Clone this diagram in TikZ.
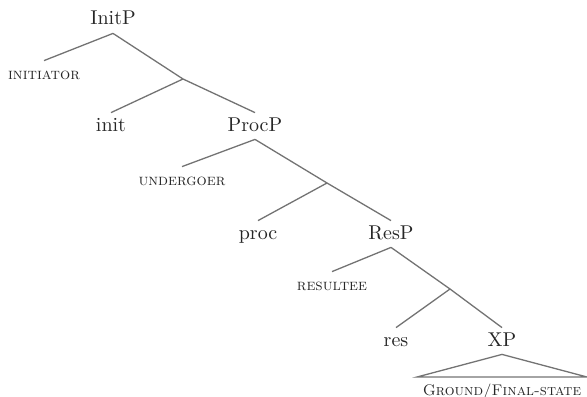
\documentclass[tikz,border=0pt]{standalone}
\begin{document}
\begin{tikzpicture}[x=0.5pt,y=-0.5pt,
  lab/.style={anchor=base,inner sep=2pt,text height=7pt,text depth=2pt,font=\normalsize,text=black!85},
  sc/.style={anchor=base,inner sep=2pt,text height=7pt,text depth=2pt,font=\footnotesize\scshape,text=black!85},
  br/.style={draw=black!55,line width=0.65pt}]
\useasboundingbox (0,0) rectangle (587,396);
\node[lab] (initp) at (113,25) {InitP};
\node[sc] (initiator) at (44,79) {initiator};
\coordinate (j1) at (183,79);
\node[lab] (init) at (111,131) {init};
\node[lab] (procp) at (255,131) {ProcP};
\node[sc] (undergoer) at (182,185) {undergoer};
\coordinate (j2) at (327,183);
\node[lab] (proc) at (258,239) {proc};
\node[lab] (resp) at (391,239) {ResP};
\node[sc] (resultee) at (332,290) {resultee};
\coordinate (j3) at (450,289);
\node[lab] (res) at (396,346) {res};
\node[lab] (xp) at (502,346) {XP};
\coordinate (tl) at (417,377);
\coordinate (tr) at (587,377);
\node[sc,font=\fontsize{7.7}{9}\selectfont\scshape] (ground) at (502,395) {Ground/Final-state};
\draw[br] (initp.south) -- (initiator.north);
\draw[br] (initp.south) -- (j1) -- (procp.north);
\draw[br] (j1) -- (init.north);
\draw[br] (procp.south) -- (undergoer.north);
\draw[br] (procp.south) -- (j2) -- (resp.north);
\draw[br] (j2) -- (proc.north);
\draw[br] (resp.south) -- (resultee.north);
\draw[br] (resp.south) -- (j3) -- (xp.north);
\draw[br] (j3) -- (res.north);
\draw[br] (xp.south) -- (tl) -- (tr) -- cycle;
\end{tikzpicture}
\end{document}
